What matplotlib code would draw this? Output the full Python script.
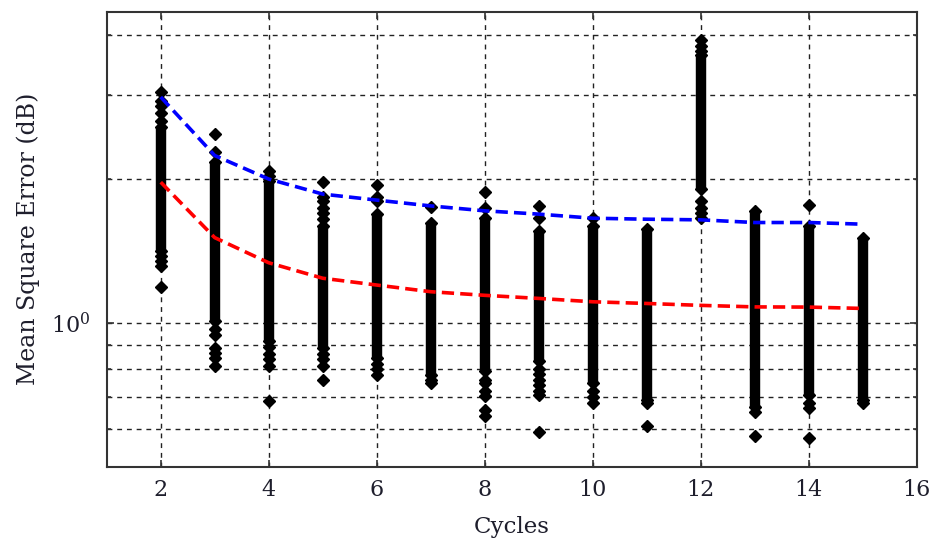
import matplotlib
matplotlib.use("Agg")
import matplotlib.pyplot as plt
from matplotlib.ticker import FixedLocator, NullFormatter, FixedFormatter

plt.rcParams["mathtext.fontset"] = "dejavuserif"

# ---- data ----
cycles = [2, 3, 4, 5, 6, 7, 8, 9, 10, 11, 12, 13, 14, 15]

# dense (continuous) part of each scatter column
dense_lo = [1.414, 1.008, 0.915, 0.886, 0.844, 0.779, 0.792, 0.831, 0.748, 0.691, 1.905, 0.668, 0.707, 0.691]
dense_hi = [2.57, 2.17, 1.98, 1.596, 1.689, 1.622, 1.661, 1.557, 1.596, 1.571, 3.63, 1.716, 1.596, 1.508]

# individually visible points (outliers / sparse tails)
sparse_pts = {
    2: [3.04, 2.92, 2.85, 2.75, 2.65, 1.38, 1.35, 1.316, 1.188],
    3: [2.49, 2.275, 0.969, 0.945, 0.886, 0.865, 0.844, 0.811],
    4: [2.08, 2.03, 0.89, 0.86, 0.84, 0.811, 0.685],
    5: [1.968, 1.83, 1.80, 1.743, 1.70, 1.65, 0.86, 0.84, 0.811, 0.761],
    6: [1.945, 1.83, 1.80, 0.82, 0.80, 0.779],
    7: [1.75, 0.76, 0.748],
    8: [1.875, 1.743, 0.76, 0.748, 0.72, 0.702, 0.658, 0.637],
    9: [1.757, 1.661, 0.80, 0.78, 0.76, 0.74, 0.72, 0.707, 0.59],
    10: [1.661, 0.72, 0.70, 0.679],
    11: [0.68, 0.607],
    12: [3.90, 3.80, 3.70, 1.80, 1.743, 1.70, 1.661],
    13: [0.65, 0.58],
    14: [1.766, 0.68, 0.663, 0.574],
    15: [0.68],
}

blue_mean = [2.97, 2.24, 2.00, 1.86, 1.807, 1.757, 1.716, 1.689, 1.656, 1.648, 1.643, 1.622, 1.622, 1.609]
red_mean = [1.97, 1.508, 1.336, 1.24, 1.20, 1.162, 1.142, 1.125, 1.107, 1.098, 1.088, 1.08, 1.079, 1.072]

x_ticks = [2, 4, 6, 8, 10, 12, 14, 16]
y_minor = [0.6, 0.7, 0.8, 0.9, 2, 3, 4]

TXT = "#1e1e2c"

# ---- figure ----
fig = plt.figure(figsize=(9.33, 5.45), dpi=100)
ax = fig.add_axes([0.1144, 0.1437, 0.8681, 0.8348])
ax.set_yscale("log")
ax.set_xlim(1, 16)
ax.set_ylim(0.5, 4.48)

# grid
ax.set_xticks(x_ticks)
ax.yaxis.set_major_locator(FixedLocator([1.0]))
ax.yaxis.set_major_formatter(FixedFormatter([r"$\mathregular{10^0}$"]))
ax.yaxis.set_minor_locator(FixedLocator(y_minor))
ax.yaxis.set_minor_formatter(NullFormatter())
ax.grid(True, which="both", axis="y", color="#222222", linestyle=(0, (3.5, 3.5)), linewidth=1.0)
ax.grid(True, which="major", axis="x", color="#222222", linestyle=(0, (3.5, 3.5)), linewidth=1.0)
ax.set_axisbelow(True)

# scatter columns
mw = 7.5
for x, lo, hi in zip(cycles, dense_lo, dense_hi):
    ax.vlines(x, lo, hi, color="black", linewidth=mw, zorder=3)
    ax.plot([x, x], [lo, hi], linestyle="none", marker="D", markersize=5.8,
            color="black", zorder=3)
for x in cycles:
    ys = sparse_pts[x]
    ax.plot([x] * len(ys), ys, linestyle="none", marker="D", markersize=5.8,
            color="black", zorder=3)

# mean curves
ax.plot(cycles, blue_mean, color="#0000ff", linestyle=(0, (3.4, 1.7)), linewidth=2.6, zorder=4)
ax.plot(cycles, red_mean, color="#ff0000", linestyle=(0, (3.4, 1.7)), linewidth=2.6, zorder=4)

# ticks / spines
ax.tick_params(axis="both", which="both", direction="in", top=True, right=True,
               length=5, width=1.2, color="#333333", labelsize=16, labelcolor=TXT)
ax.tick_params(axis="x", pad=9)
ax.tick_params(axis="y", pad=12)
ax.tick_params(axis="y", which="minor", length=3)
for lbl in ax.get_xticklabels() + ax.get_yticklabels():
    lbl.set_fontfamily("DejaVu Serif")
for s in ax.spines.values():
    s.set_linewidth(1.5)
    s.set_color("#333333")

ax.set_xlabel("Cycles", fontsize=16.5, family="DejaVu Serif", color=TXT, labelpad=11)
ax.set_ylabel("Mean Square Error (dB)", fontsize=17, family="DejaVu Serif", color=TXT, labelpad=8)

fig.savefig("out.png", dpi=100)
